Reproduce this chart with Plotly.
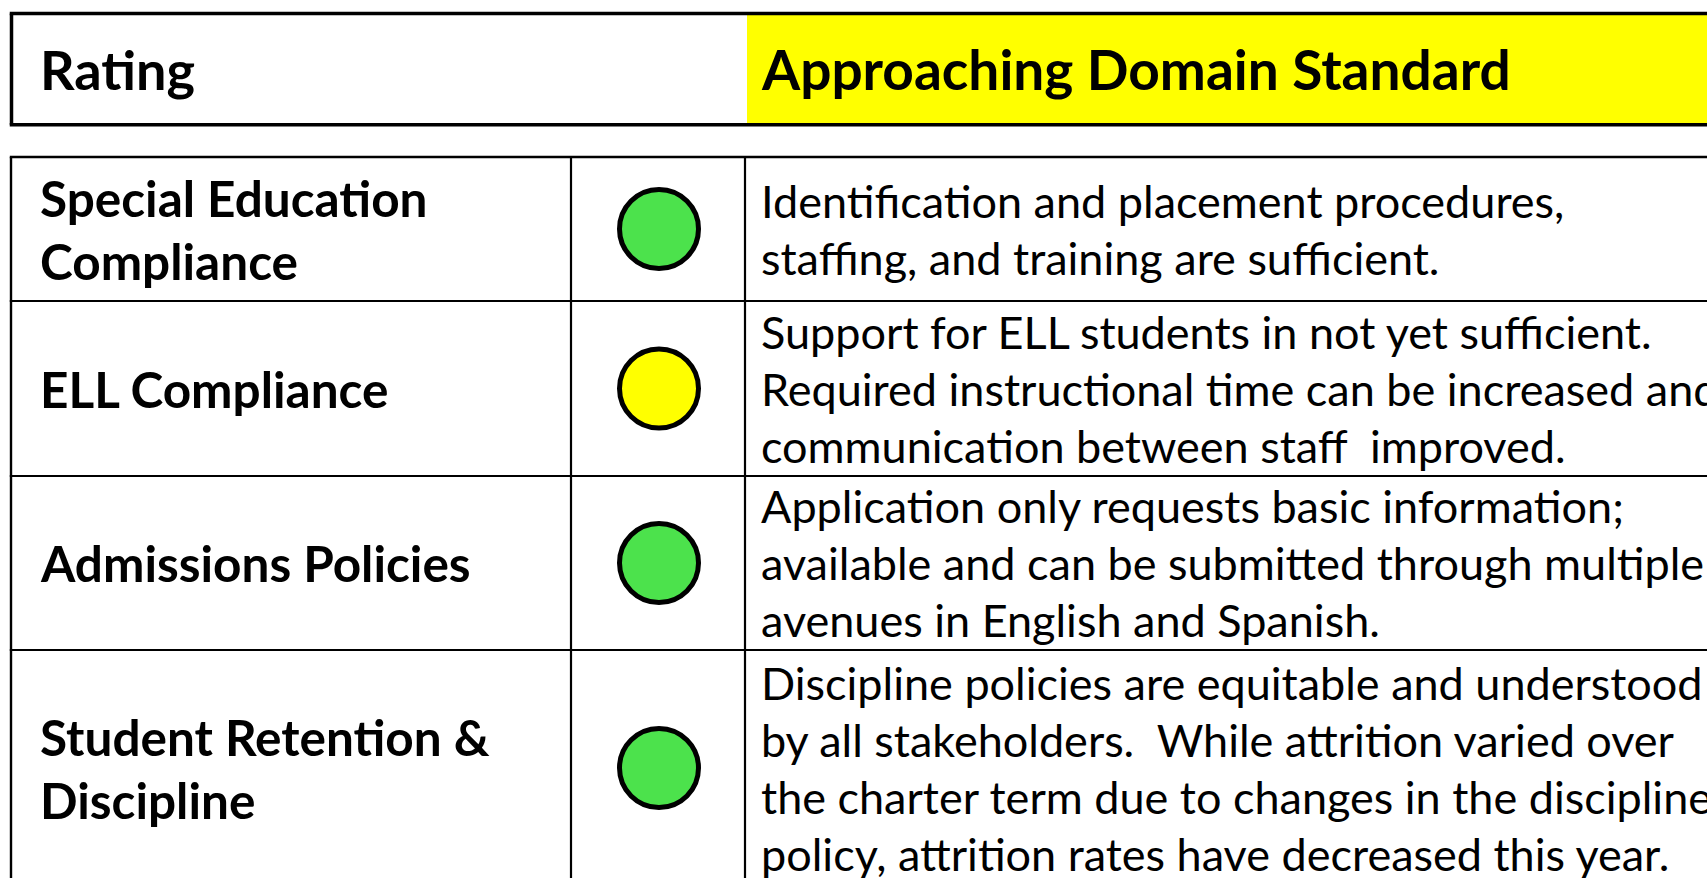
import plotly.graph_objects as go

# ---------------- data ----------------
overall_label = "Rating"
overall_rating = "Approaching Domain Standard"
domains = [
    ["Special Education", "Compliance"],
    ["ELL Compliance"],
    ["Admissions Policies"],
    ["Student Retention &", "Discipline"],
]
ratings = ["green", "yellow", "green", "green"]
descriptions = [
    ["Identification and placement procedures,",
     "staffing, and training are sufficient."],
    ["Support for ELL students in not yet sufficient.",
     "Required instructional time can be increased and",
     "communication between staff  improved."],
    ["Application only requests basic information;",
     "available and can be submitted through multiple",
     "avenues in English and Spanish."],
    ["Discipline policies are equitable and understood",
     "by all stakeholders.  While attrition varied over",
     "the charter term due to changes in the discipline",
     "policy, attrition rates have decreased this year."],
]

# ---------------- styles / layout ----------------
W, H = 1707, 878
FONT = "Lato"
rating_colors = {"green": "#4CE24C", "yellow": "#FFFF00", "red": "#FF0000"}
header_top, header_bottom, header_left = 13.5, 124.8, 11.5
header_split = 747
row_bounds = [157, 301, 476, 650, 886]
col_x = [11, 571, 745]
circle_x = 659
label_x, desc_x = 38, 759
label_size, desc_size = 49.5, 45
header_size_left, header_size_right = 54, 55
label_gap, desc_gap = 63, 57


def keep_spaces(s):
    return s.replace("  ", " \u00a0")


shapes = []
# header: yellow fill + borders
shapes.append(dict(type="rect", x0=header_split, x1=W + 50, y0=header_top, y1=header_bottom,
                   fillcolor="#FFFF00", line=dict(width=0), layer="below"))
for (x0, y0, x1, y1) in [(header_left - 1.75, header_top, W + 50, header_top),
                         (header_left - 1.75, header_bottom, W + 50, header_bottom),
                         (header_left, header_top, header_left, header_bottom)]:
    shapes.append(dict(type="line", x0=x0, y0=y0, x1=x1, y1=y1,
                       line=dict(color="black", width=3.5)))

# table grid
for i, yb in enumerate(row_bounds[:-1]):
    shapes.append(dict(type="line", x0=col_x[0] - 1.2, x1=W + 50, y0=yb, y1=yb,
                       line=dict(color="black", width=2.6 if i == 0 else 2.2)))
for i, xb in enumerate(col_x):
    shapes.append(dict(type="line", x0=xb, x1=xb, y0=row_bounds[0], y1=row_bounds[-1] + 20,
                       line=dict(color="black", width=2.4 if i == 0 else 2.2)))

annotations = []
header_mid = (header_top + header_bottom) / 2
annotations.append(dict(x=label_x, y=header_mid, text="<b>%s</b>" % overall_label,
                        font=dict(family=FONT, size=header_size_left, color="black")))
annotations.append(dict(x=header_split + 12, y=header_mid, text="<b>%s</b>" % overall_rating,
                        font=dict(family=FONT, size=header_size_right, color="black")))

row_mids = [(row_bounds[i] + row_bounds[i + 1]) / 2 for i in range(len(domains))]
for mid, lab_lines, desc_lines in zip(row_mids, domains, descriptions):
    n = len(lab_lines)
    for j, t in enumerate(lab_lines):
        annotations.append(dict(x=label_x, y=mid + (j - (n - 1) / 2) * label_gap,
                                text="<b>%s</b>" % t,
                                font=dict(family=FONT, size=label_size, color="black")))
    n = len(desc_lines)
    for j, t in enumerate(desc_lines):
        annotations.append(dict(x=desc_x, y=mid + (j - (n - 1) / 2) * desc_gap,
                                text=keep_spaces(t),
                                font=dict(family=FONT, size=desc_size, color="black")))
for a in annotations:
    a.update(xref="x", yref="y", xanchor="left", yanchor="middle", showarrow=False)

fig = go.Figure()
fig.add_trace(go.Scatter(
    x=[circle_x] * len(ratings), y=row_mids, mode="markers",
    marker=dict(size=79, color=[rating_colors[r] for r in ratings],
                line=dict(color="black", width=5)),
    hoverinfo="skip", showlegend=False, cliponaxis=False))

fig.update_layout(
    width=W, height=H, margin=dict(l=0, r=0, t=0, b=0),
    paper_bgcolor="white", plot_bgcolor="white",
    xaxis=dict(range=[0, W], visible=False, fixedrange=True),
    yaxis=dict(range=[H, 0], visible=False, fixedrange=True),
    shapes=shapes, annotations=annotations, showlegend=False,
)
fig.write_html("out.html", config={"displayModeBar": False},
               post_script="document.body.style.margin='0';document.body.style.overflow='hidden';")
